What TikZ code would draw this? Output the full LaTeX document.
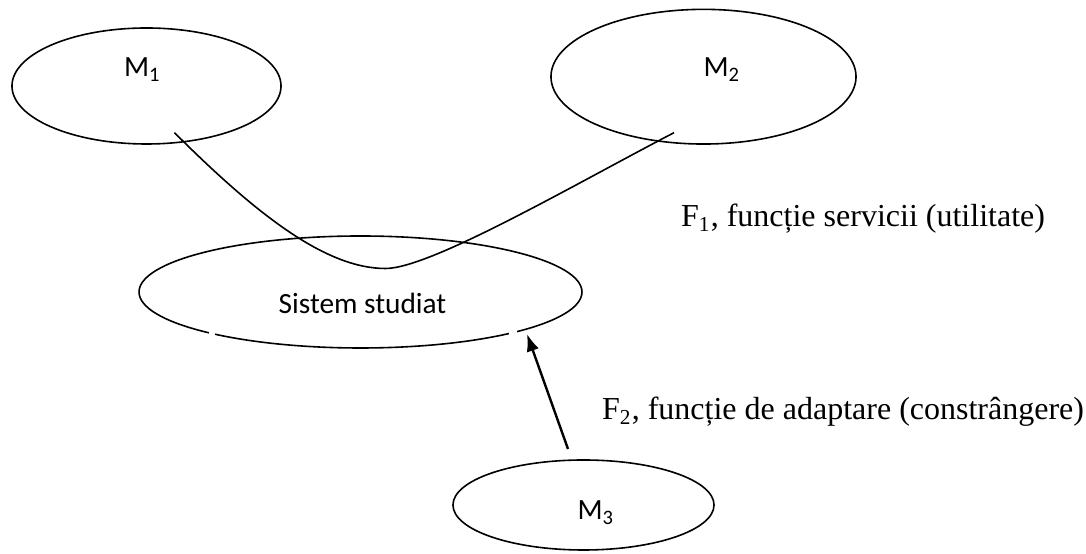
\documentclass[tikz,border=0pt]{standalone}
\usepackage{fontspec}
\setmainfont{Liberation Serif}
\newfontfamily\calib{Carlito}
\usetikzlibrary{shapes.geometric,arrows.meta}
\begin{document}
\begin{tikzpicture}[x=0.375pt,y=-0.375pt,
  oval/.style={draw,ellipse,line width=0.6pt,inner sep=0pt},
  mlabel/.style={font=\calib\fontsize{11}{13}\selectfont,anchor=base,inner sep=0pt},
  flabel/.style={font=\fontsize{12}{14}\selectfont,anchor=base west,inner sep=0pt},
  link/.style={line width=0.6pt},
  push/.style={line width=0.9pt,-{Latex[length=6.5pt,width=4.8pt]}}]
\useasboundingbox (0,0) rectangle (1086,554);

% environment media and the studied system
\node[oval,minimum width=100.9pt,minimum height=43.5pt] (m1) at (146.5,86) {};
\node[oval,minimum width=114.4pt,minimum height=50.5pt] (m2) at (703.5,76.7) {};
\node[oval,minimum width=166.1pt,minimum height=42pt] (sys) at (360.5,292) {};
\node[oval,minimum width=97.9pt,minimum height=33.75pt] (m3) at (583.5,505) {};

% small breaks in the lower outline of the system
\fill[white] (209,329) rectangle (214.5,338);
\fill[white] (509,328) rectangle (517,337);

\node[mlabel] (t1) at (142.5,77) {M\textsubscript{1}};
\node[mlabel] (t2) at (722,77) {M\textsubscript{2}};
\node[mlabel] (ts) at (362.5,314) {Sistem studiat};
\node[mlabel] (t3) at (596,520) {M\textsubscript{3}};

% service function: M1 -> system -> M2
\coordinate (c1) at (174.5,132.7);
\coordinate (cb) at (385.5,268.5);
\coordinate (c2) at (674,132.7);
\draw[link] (c1) .. controls (256,214) and (325.5,268.5) .. (cb)
                 .. controls (430.5,268.5) and (574,184.7) .. (c2);

% adaptation function: M3 acts on the system
\coordinate (a3) at (568,449);
\coordinate (as) at (527,334);
\draw[push] (a3) -- (as);

\node[flabel] (f1) at (680.5,227) {F\textsubscript{1}, funcție servicii (utilitate)};
\node[flabel] (f2) at (601.5,420) {F\textsubscript{2}, funcție de adaptare (constrângere)};
\end{tikzpicture}
\end{document}
